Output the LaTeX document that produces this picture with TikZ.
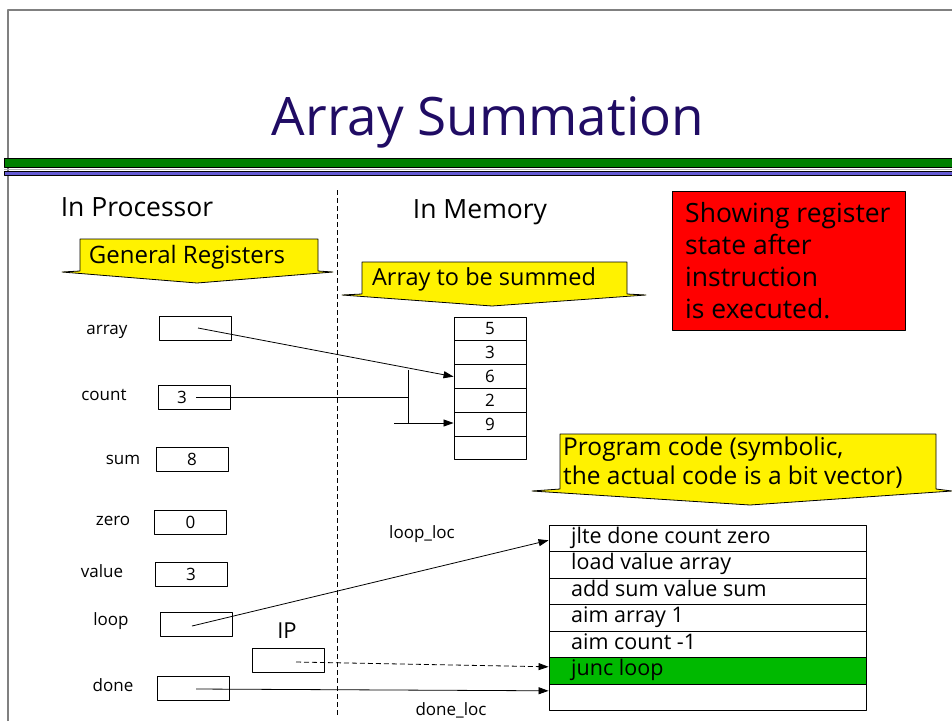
\documentclass[tikz,border=0pt]{standalone}
\usepackage{fontspec}
\setmainfont{Open Sans}
\usetikzlibrary{arrows.meta}
\definecolor{titleblue}{RGB}{32,12,100}
\definecolor{barblue}{RGB}{100,90,210}
\definecolor{bargreen}{RGB}{0,128,0}
\definecolor{rowgreen}{RGB}{0,185,0}
\newcommand{\fs}[1]{\fontsize{#1}{#1}\selectfont}
\begin{document}
\begin{tikzpicture}[x=1pt, y=-1pt, line join=round, >={Triangle[length=10pt,width=7pt]},
    reg/.style={draw, line width=0.9pt, minimum width=72pt, minimum height=24pt, inner sep=0pt, font=\fs{17}},
    lbl/.style={anchor=base, inner sep=0pt, font=\fs{17}},
    head/.style={font=\fs{26.5}},
    cell/.style={draw, line width=0.9pt, minimum width=72pt, minimum height=23.8pt, inner sep=0pt, font=\fs{17}},
    coderow/.style={draw, line width=0.9pt, minimum width=317pt, minimum height=26.5pt, inner sep=0pt},
    codetxt/.style={anchor=base west, inner sep=0pt, font=\fs{21.5}},
    callout/.style={fill=yellow, draw, line width=0.8pt}]
    \useasboundingbox (0,0) rectangle (952,721);
    % slide frame and title bars
    \draw[gray, line width=2pt] (8,721) -- (8,10) -- (952,10);
    \draw[fill=bargreen, line width=0.8pt] (4,158) rectangle (952,167);
    \draw[gray!60, line width=0.6pt] (4,169) -- (952,169);
    \draw[fill=barblue, line width=0.8pt] (4,171) rectangle (952,175);
    \node[text=titleblue, font=\fs{53}] (title) at (488,122) {Array Summation};
    \draw[dashed, dash pattern=on 5pt off 3pt, line width=0.8pt] (337,190) -- (337,715);

    \node[head] (proc) at (137,207) {In Processor};
    \node[head] (mem) at (480,212) {In Memory};

    % callouts
    \draw[callout] (80,239) -- (318,239) -- (318,271) -- (333,272) -- (197,283) -- (62,272) -- (80,271) -- cycle;
    \node[font=\fs{24}] (genreg) at (187,257) {General Registers};
    \draw[callout] (362,262) -- (627,262) -- (627,294) -- (646,295) -- (492,306) -- (342,295) -- (362,294) -- cycle;
    \node[font=\fs{23.5}] (arrsum) at (484,279) {Array to be summed};
    \draw[callout] (560,434) -- (936,434) -- (936,489) -- (952,491) -- (750,505) -- (532,491) -- (560,489) -- cycle;
    \node[anchor=west, align=left, inner sep=0pt, font=\fontsize{24.5}{29}\selectfont] (prog) at (563,463)
        {Program code (symbolic,\\the actual code is a bit vector)};

    \node[draw, fill=red, line width=0.9pt, anchor=north west, minimum width=233pt, minimum height=139pt] (note) at (672,191) {};
    \node[anchor=west, align=left, inner sep=0pt, font=\fontsize{26.5}{32}\selectfont] (notetxt) at (685,261)
        {Showing register\\state after\\instruction\\is executed.};

    % registers
    \node[reg] (array) at (195,328) {};
    \node[lbl] at (107,334) {array};
    \node[reg] (count) at (194,397) {};
    \node[font=\fs{17}] (countval) at (182,397) {3};
    \node[lbl] at (104,400) {count};
    \node[reg] (sum) at (192,459) {8};
    \node[lbl] at (123,464) {sum};
    \node[reg] (zero) at (190.5,522) {0};
    \node[lbl] at (113,525) {zero};
    \node[reg] (value) at (191,574) {3};
    \node[lbl] at (102,577) {value};
    \node[reg] (loop) at (196,624) {};
    \node[lbl] at (111,625) {loop};
    \node[reg] (done) at (193,688) {};
    \node[lbl] at (113,691) {done};
    \node[reg] (ip) at (288,660) {};
    \node[font=\fs{22}] at (287,631) {IP};

    % array in memory
    \foreach \v [count=\i from 0] in {5,3,6,2,9,{}}
        \node[cell] (a\i) at (490,329+23.8*\i) {\v};

    % program code
    \fill[rowgreen] (549,658) rectangle (866,684);
    \foreach \txt [count=\i from 0] in {jlte done count zero, load value array, add sum value sum,
            aim array 1, aim count -1, junc loop, {}} {
        \node[coderow] (c\i) at (707.5,538.3+26.5*\i) {};
        \node[codetxt] at (571,543+26.5*\i) {\txt};
    }
    \node[lbl] (looploc) at (422,538) {loop\_loc};
    \node[lbl] (doneloc) at (451,715) {done\_loc};

    % pointers
    \coordinate (brmid) at (408,397);
    \coordinate (brtop) at (408,370);
    \coordinate (brbot) at (408,423);
    \coordinate (brin) at (394,423);
    \draw[->, line width=0.8pt] ([xshift=3pt]array.center) -- (a2.west);
    \draw[line width=0.8pt] ([xshift=2pt]count.center) -- (brmid);
    \draw[line width=0.8pt] (brtop) -- (brbot);
    \draw[->, line width=0.8pt] (brin) -- (brin -| a4.west);
    \draw[->, line width=0.8pt] ([xshift=-4pt,yshift=-2pt]loop.center) -- ([yshift=-2pt]c0.west);
    \draw[->, dashed, dash pattern=on 5pt off 3pt, line width=0.8pt] ([xshift=8pt,yshift=-2pt]ip.center) -- ([yshift=4pt]c5.west);
    \draw[->, line width=0.8pt] ([xshift=3pt,yshift=-1pt]done.center) -- ([yshift=6.5pt]c6.west);
\end{tikzpicture}
\end{document}
